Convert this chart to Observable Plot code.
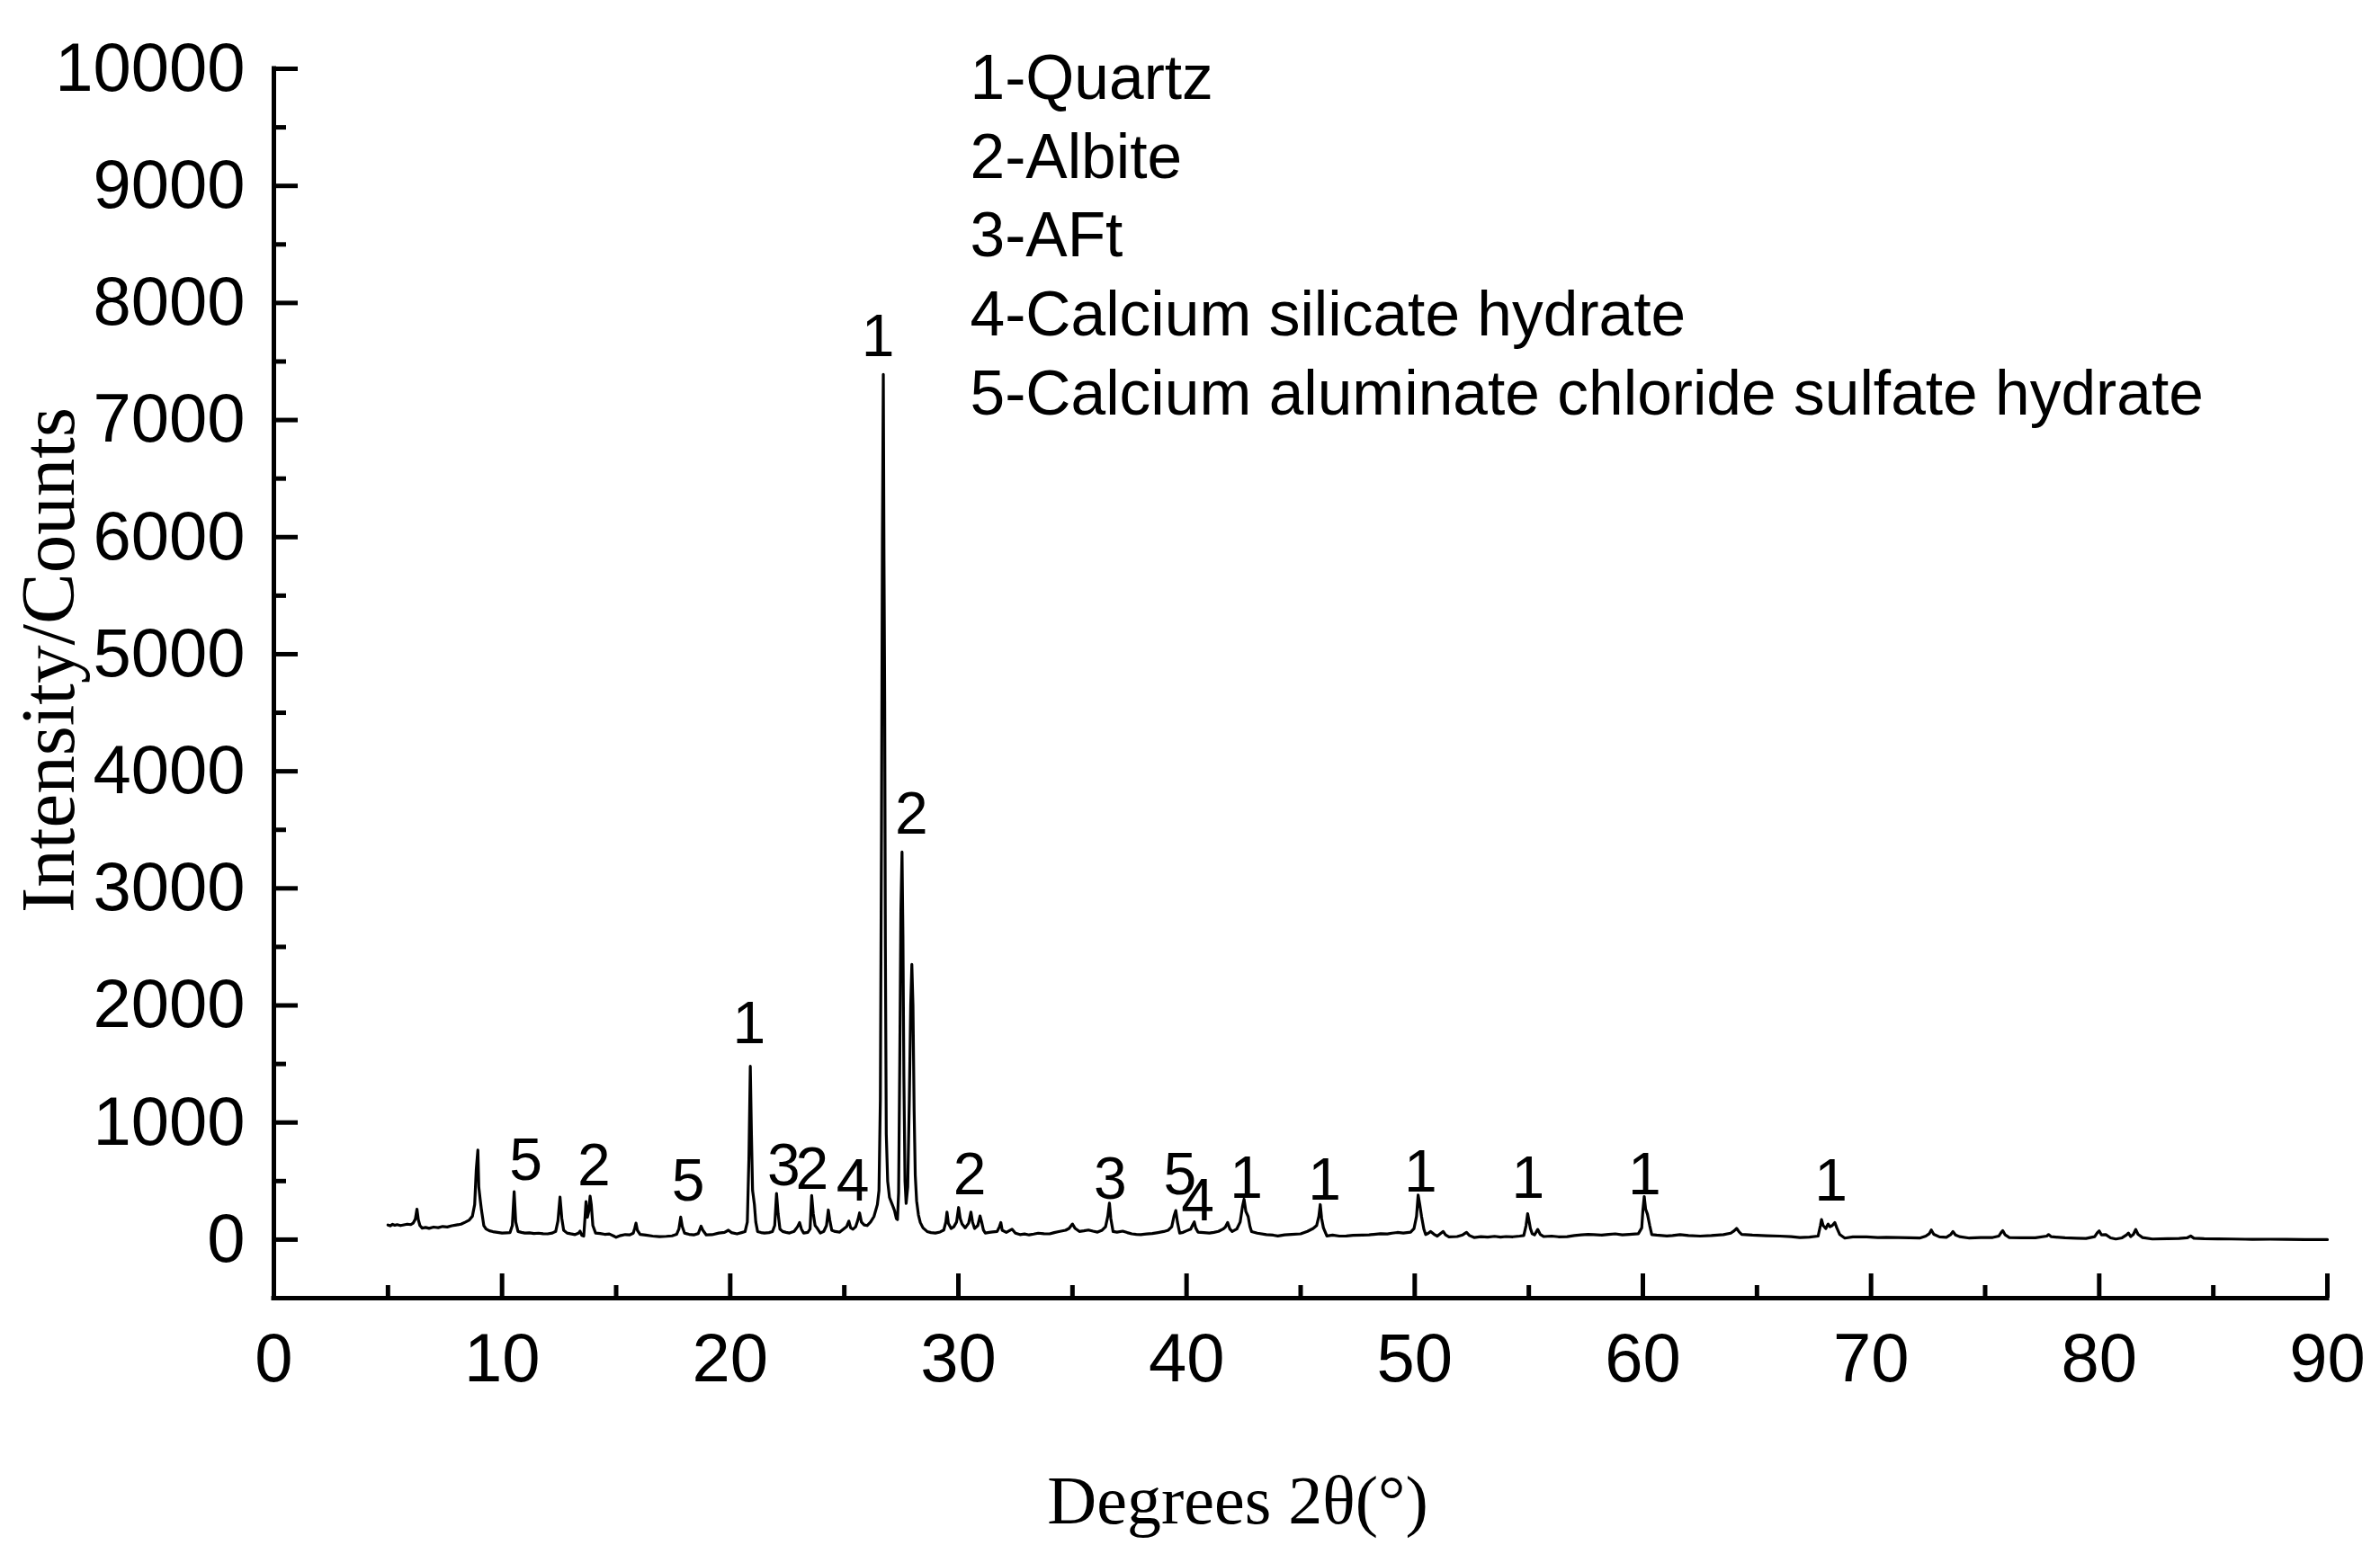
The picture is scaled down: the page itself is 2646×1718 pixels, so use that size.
<!DOCTYPE html>
<html><head><meta charset="utf-8">
<script src="https://cdn.jsdelivr.net/npm/d3@7"></script>
<script src="https://cdn.jsdelivr.net/npm/@observablehq/plot@0.6"></script>
<style>html,body{margin:0;padding:0;background:#fff;} svg{display:block;}</style>
</head><body><div id="chart"></div>
<script>
// 2θ positions (degrees) of the XRD pattern
const twoTheta = [
  5.00, 5.10, 5.20, 5.30, 5.40, 5.55, 5.70, 5.85, 6.00, 6.10,
  6.20, 6.27, 6.33, 6.40, 6.50, 6.65, 6.80, 7.00, 7.20, 7.40,
  7.60, 7.80, 8.00, 8.20, 8.40, 8.55, 8.70, 8.80, 8.87, 8.94,
  8.98, 9.04, 9.10, 9.20, 9.30, 9.45, 9.60, 9.80, 10.00, 10.20,
  10.35, 10.45, 10.53, 10.60, 10.70, 10.85, 11.00, 11.20, 11.40, 11.60,
  11.80, 12.00, 12.20, 12.35, 12.45, 12.54, 12.62, 12.70, 12.85, 13.00,
  13.20, 13.35, 13.42, 13.50, 13.58, 13.64, 13.68, 13.74, 13.80, 13.86,
  13.91, 13.98, 14.10, 14.30, 14.50, 14.70, 14.90, 15.00, 15.20, 15.40,
  15.60, 15.75, 15.82, 15.87, 15.93, 16.05, 16.30, 16.60, 16.90, 17.20,
  17.45, 17.65, 17.75, 17.83, 17.90, 18.00, 18.20, 18.40, 18.60, 18.72,
  18.80, 18.95, 19.20, 19.50, 19.75, 19.92, 20.05, 20.30, 20.50, 20.65,
  20.75, 20.82, 20.88, 20.93, 20.98, 21.06, 21.12, 21.20, 21.35, 21.50,
  21.70, 21.85, 21.95, 22.03, 22.10, 22.18, 22.30, 22.45, 22.60, 22.80,
  22.95, 23.04, 23.12, 23.22, 23.40, 23.50, 23.57, 23.64, 23.72, 23.82,
  23.95, 24.10, 24.22, 24.30, 24.36, 24.45, 24.60, 24.80, 25.00, 25.10,
  25.20, 25.28, 25.38, 25.50, 25.60, 25.67, 25.75, 25.87, 26.00, 26.15,
  26.30, 26.45, 26.52, 26.58, 26.63, 26.67, 26.71, 26.74, 26.77, 26.80,
  26.84, 26.90, 26.98, 27.05, 27.12, 27.20, 27.28, 27.33, 27.38, 27.43,
  27.48, 27.53, 27.57, 27.61, 27.66, 27.71, 27.78, 27.85, 27.91, 27.96,
  28.01, 28.06, 28.11, 28.17, 28.25, 28.33, 28.45, 28.63, 28.80, 28.99,
  29.20, 29.36, 29.45, 29.50, 29.56, 29.68, 29.80, 29.92, 30.01, 30.08,
  30.16, 30.30, 30.45, 30.55, 30.62, 30.71, 30.85, 30.95, 31.02, 31.10,
  31.18, 31.35, 31.50, 31.70, 31.80, 31.86, 31.92, 32.10, 32.35, 32.50,
  32.70, 32.90, 33.10, 33.30, 33.50, 33.75, 34.00, 34.20, 34.40, 34.55,
  34.70, 34.85, 35.00, 35.12, 35.30, 35.50, 35.70, 35.90, 36.10, 36.30,
  36.45, 36.55, 36.62, 36.68, 36.78, 36.95, 37.20, 37.40, 37.60, 37.80,
  38.00, 38.25, 38.50, 38.75, 39.00, 39.20, 39.35, 39.45, 39.53, 39.60,
  39.70, 39.85, 40.00, 40.18, 40.28, 40.34, 40.40, 40.50, 40.75, 41.00,
  41.20, 41.40, 41.60, 41.70, 41.80, 41.90, 42.00, 42.20, 42.35, 42.45,
  42.52, 42.60, 42.70, 42.78, 42.85, 43.10, 43.50, 43.80, 44.00, 44.30,
  44.60, 45.00, 45.30, 45.55, 45.70, 45.80, 45.86, 45.92, 46.00, 46.15,
  46.40, 46.70, 47.00, 47.30, 47.70, 48.00, 48.20, 48.50, 48.80, 49.00,
  49.24, 49.50, 49.82, 49.97, 50.08, 50.15, 50.22, 50.30, 50.40, 50.48,
  50.60, 50.70, 50.85, 50.99, 51.15, 51.25, 51.35, 51.50, 51.86, 52.10,
  52.27, 52.40, 52.60, 52.90, 53.20, 53.50, 53.76, 54.00, 54.30, 54.60,
  54.78, 54.88, 54.95, 55.02, 55.07, 55.15, 55.25, 55.39, 55.50, 55.66,
  56.00, 56.30, 56.68, 57.00, 57.30, 57.60, 57.84, 58.20, 58.50, 58.79,
  59.10, 59.40, 59.80, 59.95, 60.00, 60.06, 60.12, 60.20, 60.30, 60.39,
  60.60, 61.05, 61.30, 61.63, 62.00, 62.51, 63.00, 63.53, 63.85, 64.00,
  64.11, 64.22, 64.33, 64.80, 65.42, 66.00, 66.50, 66.88, 67.30, 67.68,
  67.78, 67.83, 67.90, 68.02, 68.08, 68.12, 68.20, 68.30, 68.41, 68.50,
  68.63, 68.85, 69.20, 69.80, 70.30, 70.67, 71.20, 71.70, 72.13, 72.40,
  72.55, 72.64, 72.75, 73.00, 73.30, 73.50, 73.59, 73.70, 73.88, 74.31,
  74.80, 75.33, 75.60, 75.70, 75.77, 75.88, 76.06, 76.60, 77.20, 77.70,
  77.78, 77.90, 78.50, 79.00, 79.42, 79.80, 79.92, 80.00, 80.10, 80.29,
  80.50, 80.73, 81.00, 81.20, 81.28, 81.38, 81.50, 81.60, 81.70, 81.90,
  82.33, 83.00, 83.50, 83.85, 84.01, 84.15, 84.60, 85.20, 85.80, 86.40,
  86.71, 87.50, 88.20, 89.00, 90.00
];
// Intensity (counts) at each 2θ above, same order
const intensity = [
  125, 118, 130, 122, 128, 120, 126, 132, 128, 140,
  175, 260, 170, 120, 98, 104, 96, 107, 102, 112,
  108, 118, 125, 132, 150, 165, 200, 300, 600, 765,
  450, 345, 250, 120, 90, 75, 68, 62, 56, 58,
  60, 120, 409, 150, 69, 62, 56, 58, 52, 55,
  50, 49, 56, 70, 160, 363, 180, 80, 56, 50,
  43, 55, 72, 35, 30, 200, 325, 190, 240, 371,
  300, 120, 56, 52, 45, 48, 30, 20, 35, 43,
  40, 55, 100, 141, 80, 45, 38, 30, 25, 28,
  32, 45, 90, 192, 110, 55, 45, 40, 52, 115,
  80, 40, 42, 56, 62, 80, 60, 49, 60, 68,
  150, 700, 1480, 900, 420, 300, 150, 69, 60, 56,
  60, 68, 120, 394, 220, 90, 69, 62, 56, 70,
  110, 146, 90, 56, 62, 90, 376, 220, 120, 95,
  56, 70, 120, 253, 170, 80, 69, 64, 95, 110,
  158, 100, 89, 110, 170, 228, 150, 125, 120, 150,
  197, 300, 420, 1200, 3500, 6000, 7390, 5800, 4600, 2500,
  900, 500, 360, 325, 290, 248, 180, 171, 400, 1500,
  2800, 3310, 2600, 1400, 500, 310, 450, 1200, 2000, 2350,
  2000, 1100, 550, 330, 210, 146, 100, 69, 60, 56,
  65, 82, 150, 235, 140, 95, 110, 150, 274, 180,
  133, 100, 140, 235, 150, 95, 120, 202, 150, 80,
  56, 62, 66, 70, 110, 146, 80, 62, 89, 55,
  43, 48, 40, 47, 55, 50, 49, 60, 68, 74,
  80, 95, 133, 95, 70, 75, 82, 72, 64, 80,
  110, 200, 312, 180, 69, 64, 72, 60, 49, 45,
  43, 48, 52, 60, 69, 80, 110, 200, 248, 150,
  56, 62, 75, 90, 130, 151, 100, 64, 60, 56,
  62, 70, 90, 107, 146, 90, 69, 90, 150, 280,
  345, 240, 197, 110, 69, 55, 43, 38, 31, 40,
  45, 49, 70, 95, 120, 200, 299, 180, 100, 31,
  38, 30, 31, 36, 38, 40, 45, 50, 48, 55,
  61, 56, 64, 95, 200, 381, 300, 197, 90, 43,
  55, 69, 45, 30, 55, 69, 40, 23, 26, 40,
  61, 35, 18, 25, 22, 28, 22, 26, 24, 30,
  35, 120, 222, 150, 95, 50, 40, 87, 45, 26,
  30, 24, 25, 35, 40, 45, 43, 38, 45, 49,
  40, 45, 50, 100, 250, 368, 260, 217, 120, 43,
  38, 31, 35, 43, 35, 30, 35, 43, 55, 75,
  95, 65, 45, 38, 33, 30, 25, 18, 22, 30,
  120, 171, 120, 95, 120, 133, 110, 120, 146, 100,
  43, 13, 23, 23, 18, 20, 18, 15, 13, 30,
  50, 82, 45, 23, 20, 45, 69, 40, 25, 13,
  18, 18, 30, 60, 77, 40, 18, 15, 15, 30,
  43, 25, 15, 12, 10, 25, 60, 74, 40, 43,
  15, 5, 15, 40, 56, 25, 45, 87, 45, 18,
  5, 8, 10, 15, 31, 12, 8, 6, 5, 3,
  2, 3, 2, 1, 0
];

const xMajorTicks = [0, 10, 20, 30, 40, 50, 60, 70, 80, 90];
const xMinorTicks = [5, 15, 25, 35, 45, 55, 65, 75, 85];
const yMajorTicks = [0, 1000, 2000, 3000, 4000, 5000, 6000, 7000, 8000, 9000, 10000];
const yMinorTicks = [500, 1500, 2500, 3500, 4500, 5500, 6500, 7500, 8500, 9500];

// phase labels over the peaks
const peakLabelText = ["5", "2", "5", "1", "3", "2", "4", "1", "2", "2", "3", "5", "4", "1", "1", "1", "1", "1", "1"];
const peakLabelX = [11.04, 14.03, 18.16, 20.83, 22.35, 23.59, 25.37, 26.48, 27.94, 30.5, 36.66, 39.71, 40.49, 42.62, 46.05, 50.26, 54.97, 60.07, 68.24];
const peakLabelY = [674, 628, 495, 1841, 623, 592, 495, 7709, 3629, 546, 508, 551, 329, 520, 500, 571, 520, 546, 495];

const phaseLegend = ["1-Quartz", "2-Albite", "3-AFt", "4-Calcium silicate hydrate", "5-Calcium aluminate chloride sulfate hydrate"];
const xTitle = "Degrees 2θ(°)";
const yTitle = "Intensity/Counts";

const pattern = twoTheta.map((t, i) => ({t, c: intensity[i]}));
const labels = peakLabelText.map((s, i) => ({s, x: peakLabelX[i], y: peakLabelY[i]}));

const sans = "'Liberation Sans', Arial, sans-serif";
const serif = "'Liberation Serif', 'Times New Roman', serif";

const chart = Plot.plot({
  width: 2646, height: 1718,
  marginLeft: 304, marginRight: 59, marginTop: 76, marginBottom: 275,
  style: {fontFamily: sans, background: "#fff", color: "#000"},
  x: {domain: [0, 90]},
  y: {domain: [-500, 10000]},
  marks: [
    Plot.axisX(xMajorTicks, {anchor: "bottom", tickSize: -27, tickPadding: 66, strokeWidth: 5, fontSize: 76, label: null, tickFormat: d => String(d)}),
    Plot.axisX(xMinorTicks, {anchor: "bottom", tickSize: -14, tickFormat: () => "", strokeWidth: 5, label: null}),
    Plot.axisY(yMajorTicks, {anchor: "left", tickSize: -27, tickPadding: 59, strokeWidth: 5, fontSize: 76, label: null, tickFormat: d => String(d)}),
    Plot.axisY(yMinorTicks, {anchor: "left", tickSize: -14, tickFormat: () => "", strokeWidth: 5, label: null}),
    Plot.ruleX([0], {strokeWidth: 5, strokeLinecap: "square"}),
    Plot.ruleY([-500], {strokeWidth: 5, strokeLinecap: "square"}),
    Plot.line(pattern, {x: "t", y: "c", stroke: "#000", strokeWidth: 3.2, strokeLinejoin: "round"}),
    Plot.text(labels, {x: "x", y: "y", text: "s", fontSize: 66, lineAnchor: "middle", fill: "#000"}),
    Plot.text([phaseLegend.join("\n")], {frameAnchor: "top-left", dx: 774, dy: -29, lineAnchor: "top", textAnchor: "start", lineHeight: 1.263, fontSize: 69.5, fill: "#000"}),
    Plot.text([xTitle], {frameAnchor: "bottom", dx: -70, dy: 197, lineAnchor: "top", textAnchor: "middle", fontSize: 76, fontFamily: serif, fill: "#000"}),
    Plot.text([yTitle], {frameAnchor: "left", dx: -250, dy: -26, rotate: -90, lineAnchor: "middle", textAnchor: "middle", fontSize: 85, fontFamily: serif, fill: "#000"})
  ]
});
document.getElementById("chart").appendChild(chart);
</script>
</body></html>
